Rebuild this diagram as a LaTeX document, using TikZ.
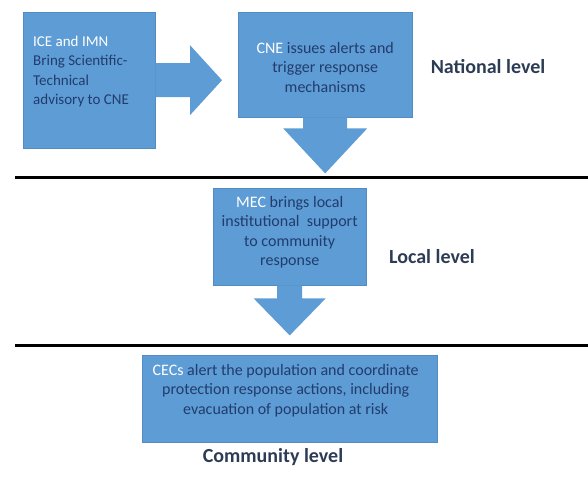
\documentclass[tikz,border=0pt]{standalone}
\usepackage{fontspec}
\setmainfont{Carlito}
\usetikzlibrary{%
    calc,
    positioning
}
\definecolor{boxblue}{RGB}{93,156,213}
\definecolor{boxedge}{RGB}{82,140,194}
\definecolor{boxink}{RGB}{34,60,108}
\definecolor{levelink}{RGB}{45,60,85}
\tikzset{box/.style = {rectangle, fill=boxblue, draw=boxedge, line width=.4pt, inner sep=0pt}}
\tikzset{boxtext/.style = {text=boxink, inner sep=0pt, font=\fontsize{16}{19.5}\selectfont}}
\tikzset{blockarrow/.style = {fill=boxblue}}
\tikzset{level/.style = {text=levelink, font=\fontsize{20}{24}\selectfont\bfseries}}
\tikzset{levelline/.style = {line width=3pt, black}}

\begin{document}
\begin{tikzpicture}[x=1pt, y=-1pt]
    \useasboundingbox (0,0) rectangle (588,476);

    % the four boxes
    \node[box, anchor=north west, minimum width=132pt, minimum height=136pt] (ice) at (23,12) {};
    \node[box, anchor=north west, minimum width=174pt, minimum height=105pt] (cne) at (238,12) {};
    \node[box, anchor=north west, minimum width=153pt, minimum height=97pt] (mec) at (213,188) {};
    \node[box, anchor=north west, minimum width=295pt, minimum height=87pt] (cec) at (142,355) {};

    % block arrows
    \coordinate (tipA) at ([xshift=-16pt]cne.west |- ice.east);
    \fill[blockarrow] ([yshift=17pt]ice.east) -| ([xshift=-32pt,yshift=35pt]tipA) -- (tipA)
        -- ([xshift=-32pt,yshift=-35pt]tipA) |- ([yshift=-17pt]ice.east) -- cycle;
    \coordinate (tipB) at ([yshift=-56pt]cne.south);
    \fill[blockarrow] ([xshift=-22pt]cne.south) |- ([xshift=-42pt,yshift=45pt]tipB) -- (tipB)
        -- ([xshift=42pt,yshift=45pt]tipB) -| ([xshift=22pt]cne.south) -- cycle;
    \coordinate (tipC) at ([yshift=-50pt]mec.south);
    \fill[blockarrow] ([xshift=-12.5pt]mec.south) |- ([xshift=-36pt,yshift=37pt]tipC) -- (tipC)
        -- ([xshift=36pt,yshift=37pt]tipC) -| ([xshift=12.5pt]mec.south) -- cycle;

    % box texts
    \node[boxtext, anchor=west, align=left, font=\fontsize{15}{19.5}\selectfont] (icetext)
        at ([xshift=10pt,yshift=8.5pt]ice.west)
        {\textcolor{white}{ICE and IMN}\\Bring Scientific-\\Technical\\advisory to CNE};
    \node[boxtext, align=center] (cnetext) at ([yshift=-2.5pt]cne.center)
        {\textcolor{white}{CNE} issues alerts and\\trigger response\\mechanisms};
    \node[boxtext, align=center] (mectext) at ([yshift=4.5pt]mec.center)
        {\textcolor{white}{MEC} brings local\\institutional\ \ support\\to community\\response};
    \node[boxtext, align=center] (cectext) at ([xshift=-4pt,yshift=8pt]cec.center)
        {\textcolor{white}{CECs} alert the population and coordinate\\protection response actions, including\\evacuation of population at risk};

    % level separators and names
    \draw[levelline] (15,177) -- (588,177);
    \draw[levelline] (15,345) -- (588,345);
    \node[level] (national) at (488,67) {National level};
    \node[level] (local) at (432,257) {Local level};
    \node[level] (community) at (273,457) {Community level};
\end{tikzpicture}
\end{document}
